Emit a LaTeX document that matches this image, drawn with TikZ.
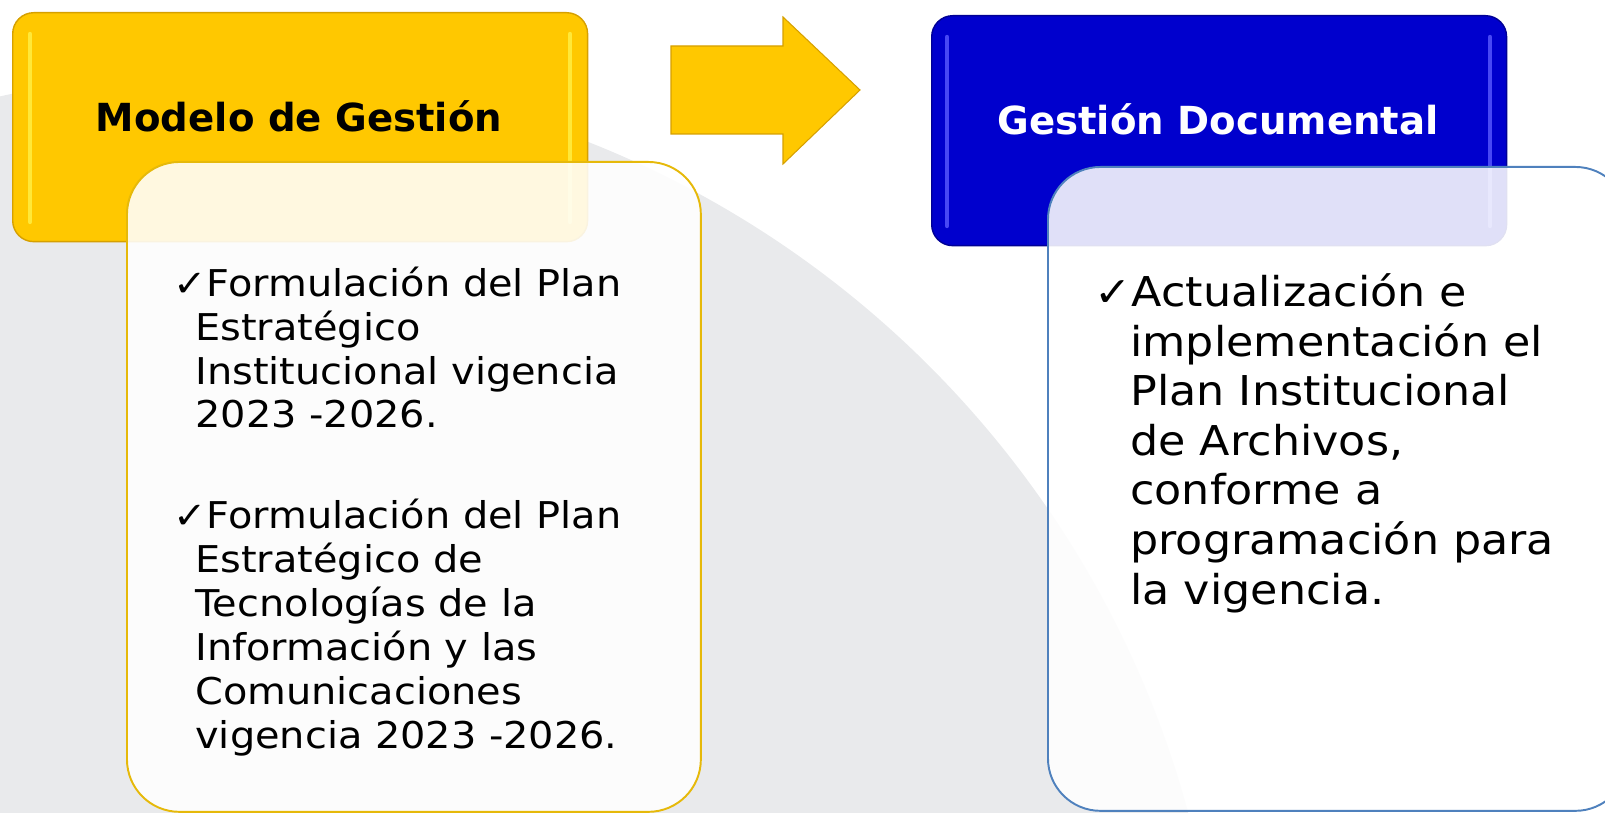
\documentclass[tikz,border=0pt]{standalone}
\usepackage{fontspec}
\setmainfont{DejaVu Sans}
\newfontfamily\bodyfont{DejaVu Sans}[FakeStretch=1.08]
\usetikzlibrary{positioning,calc}

\definecolor{oro}{RGB}{255,200,0}
\definecolor{oroedge}{RGB}{214,160,0}
\definecolor{orolight}{RGB}{255,240,70}
\definecolor{azul}{RGB}{0,0,205}
\definecolor{azuledge}{RGB}{0,0,150}
\definecolor{azullight}{RGB}{90,90,255}
\definecolor{fondo}{RGB}{233,234,236}
\definecolor{listgold}{RGB}{230,185,10}
\definecolor{listblue}{RGB}{79,129,189}

\begin{document}
\begin{tikzpicture}[
    x=0.02cm, y=-0.02cm,
    head/.style={rectangle, rounded corners=0.42cm, anchor=north west, minimum width=11.5cm, minimum height=4.6cm, line width=0.8pt, inner sep=0pt},
    list/.style={rectangle, rounded corners=1.05cm, anchor=north west, fill=white, fill opacity=0.88, line width=1.1pt, inner sep=0pt},
    gloss/.style={line width=2.5pt, line cap=round, opacity=0.8},
    title/.style={anchor=base, inner sep=0pt, font=\bfseries\fontsize{22}{26}\selectfont},
    itemL/.style={anchor=base west, align=left, inner sep=0pt, font=\bodyfont\fontsize{21}{25}\selectfont},
    itemR/.style={anchor=base west, align=left, inner sep=0pt, font=\bodyfont\fontsize{23.4}{28.2}\selectfont}
  ]
  \useasboundingbox (0,0) rectangle (1605,813);
  \clip (0,0) rectangle (1605,813);
  \fill[fondo] (220,1075) circle [radius=20.06cm];

  % cabeceras
  \node[head, fill=oro, draw=oroedge, minimum height=4.58cm] (modelo) at (12,12) {};
  \node[head, fill=azul, draw=azuledge] (gestion) at (931,15) {};
  \draw[gloss, orolight] (30,34) -- (30,222);
  \draw[gloss, orolight] (570,34) -- (570,222);
  \draw[gloss, azullight] (947,37) -- (947,226);
  \draw[gloss, azullight] (1490,37) -- (1490,226);

  \node[title] (tmodelo) at (299,132) {Modelo de Gestión};
  \node[title, white] (tgestion) at (1218,135) {Gestión Documental};

  % flecha
  \filldraw[fill=oro, draw=oroedge, line width=0.6pt] (671,46) -- (783,46) -- (783,17) -- (860,90) -- (783,164) -- (783,134) -- (671,134) -- cycle;

  % listas
  \node[list, draw=listgold, minimum width=11.48cm, minimum height=13.0cm] (listaA) at (126,161) {};
  \node[list, draw=listblue, minimum width=11.6cm, minimum height=12.88cm] (listaB) at (1047,166) {};

  % base = last line of each list
  \node[itemL] (planA) at (173,428) {✓Formulación del Plan\\\hspace*{0.44cm}Estratégico\\\hspace*{0.44cm}Institucional vigencia\\\hspace*{0.44cm}2023 -2026.};
  \node[itemL] (planB) at (173,748) {✓Formulación del Plan\\\hspace*{0.44cm}Estratégico de\\\hspace*{0.44cm}Tecnologías de la\\\hspace*{0.44cm}Información y las\\\hspace*{0.44cm}Comunicaciones\\\hspace*{0.44cm}vigencia 2023 -2026.};
  \node[itemR] (pinar) at (1094,604) {✓Actualización e\\\hspace*{0.72cm}implementación el\\\hspace*{0.72cm}Plan Institucional\\\hspace*{0.72cm}de Archivos,\\\hspace*{0.72cm}conforme a\\\hspace*{0.72cm}programación para\\\hspace*{0.72cm}la vigencia.};
\end{tikzpicture}
\end{document}
